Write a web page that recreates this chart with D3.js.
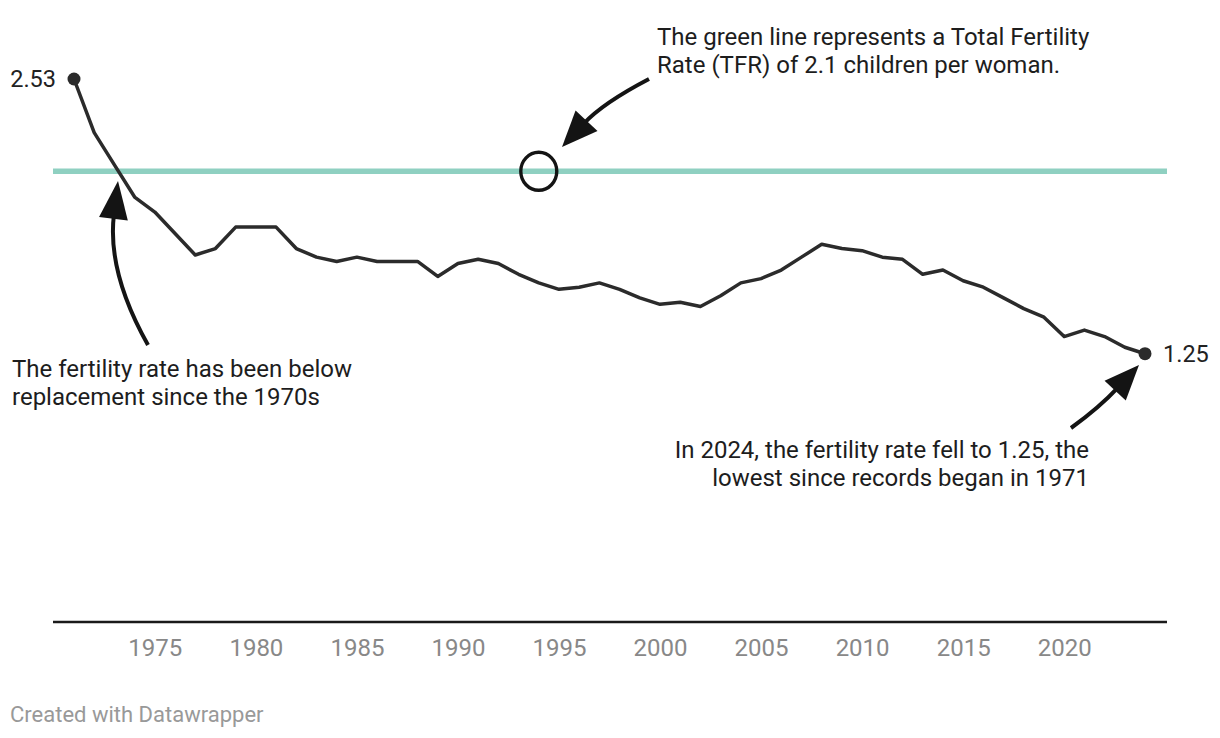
<!DOCTYPE html>
<html>
<head>
<meta charset="utf-8">
<script src="https://cdn.jsdelivr.net/npm/d3@7"></script>
<style>
  html, body { margin: 0; padding: 0; background: #fff; }
  svg { display: block; font-family: Roboto, "Noto Sans", sans-serif; }
</style>
</head>
<body>
<svg id="chart" width="1220" height="738"></svg>
<script>
// ---- data ----
const years = [1971,1972,1973,1974,1975,1976,1977,1978,1979,1980,
               1981,1982,1983,1984,1985,1986,1987,1988,1989,1990,
               1991,1992,1993,1994,1995,1996,1997,1998,1999,2000,
               2001,2002,2003,2004,2005,2006,2007,2008,2009,2010,
               2011,2012,2013,2014,2015,2016,2017,2018,2019,2020,
               2021,2022,2023,2024];
const tfr = [2.53,2.28,2.13,1.98,1.91,1.81,1.71,1.74,1.84,1.84,
             1.84,1.74,1.70,1.68,1.70,1.68,1.68,1.68,1.61,1.67,
             1.69,1.67,1.62,1.58,1.55,1.56,1.58,1.55,1.51,1.48,
             1.49,1.47,1.52,1.58,1.60,1.64,1.70,1.76,1.74,1.73,
             1.70,1.69,1.62,1.64,1.59,1.56,1.51,1.46,1.42,1.33,
             1.36,1.33,1.28,1.25];
const tickYears = [1975,1980,1985,1990,1995,2000,2005,2010,2015,2020];
const replacementRate = 2.1;

const svg = d3.select("#chart");
const x = d3.scaleLinear().domain([1971, 2024]).range([74, 1145]);
const y = d3.scaleLinear().domain([0, 2.53]).range([622, 79]);

const data = years.map((yr, i) => ({year: yr, value: tfr[i]}));

// baseline
svg.append("line")
  .attr("x1", 53).attr("x2", 1167)
  .attr("y1", y(0)).attr("y2", y(0))
  .attr("stroke", "#1a1a1a").attr("stroke-width", 2.5);

// x axis ticks
const axis = d3.axisBottom(x).tickValues(tickYears).tickSize(0).tickPadding(17).tickFormat(d3.format("d"));
const gAxis = svg.append("g").attr("transform", `translate(0,${y(0)})`).call(axis);
gAxis.select(".domain").remove();
gAxis.selectAll("text")
  .attr("fill", "#888").style("font-size", "24px").style("font-family", "Roboto, sans-serif");

// replacement line
svg.append("line")
  .attr("x1", 53).attr("x2", 1167)
  .attr("y1", y(replacementRate)).attr("y2", y(replacementRate))
  .attr("stroke", "#8fd0c1").attr("stroke-width", 5.5);

// data line
const line = d3.line().x(d => x(d.year)).y(d => y(d.value));
svg.append("path").datum(data)
  .attr("d", line)
  .attr("fill", "none").attr("stroke", "#2b2b2b").attr("stroke-width", 3.5)
  .attr("stroke-linejoin", "round");

// end dots
const ends = [data[0], data[data.length - 1]];
svg.selectAll("circle.end").data(ends).enter().append("circle")
  .attr("class", "end")
  .attr("cx", d => x(d.year)).attr("cy", d => y(d.value)).attr("r", 6.5)
  .attr("fill", "#2b2b2b");

// end labels
svg.append("text").attr("x", x(data[0].year) - 18).attr("y", y(data[0].value) + 8)
  .attr("text-anchor", "end").attr("fill", "#222").style("font-size", "23.5px")
  .text(data[0].value.toFixed(2));
const last = data[data.length - 1];
svg.append("text").attr("x", x(last.year) + 18).attr("y", y(last.value) + 8)
  .attr("text-anchor", "start").attr("fill", "#222").style("font-size", "23.5px")
  .text(last.value.toFixed(2));

// ---- annotations ----
function arrow(tail, ctrl, tip, L, W) {
  const dx = tip[0] - ctrl[0], dy = tip[1] - ctrl[1];
  const len = Math.hypot(dx, dy);
  const ux = dx / len, uy = dy / len;
  const base = [tip[0] - ux * L, tip[1] - uy * L];
  const px = -uy, py = ux;
  svg.append("path")
    .attr("d", `M${tail[0]},${tail[1]} Q${ctrl[0]},${ctrl[1]} ${base[0] + ux*4},${base[1] + uy*4}`)
    .attr("fill", "none").attr("stroke", "#141414").attr("stroke-width", 4)
    .attr("stroke-linecap", "butt");
  svg.append("path")
    .attr("d", `M${tip[0]},${tip[1]} L${base[0] + px*W/2},${base[1] + py*W/2} L${base[0] - px*W/2},${base[1] - py*W/2} Z`)
    .attr("fill", "#141414");
}

function textBlock(xp, yp, lines, anchor) {
  const t = svg.append("text").attr("x", xp).attr("y", yp)
    .attr("text-anchor", anchor).attr("fill", "#1d1d1d").style("font-size", "24px");
  lines.forEach((s, i) => {
    t.append("tspan").attr("x", xp).attr("dy", i === 0 ? 0 : 28).text(s);
  });
}

// circle on replacement line
svg.append("ellipse")
  .attr("cx", x(1994)).attr("cy", y(replacementRate))
  .attr("rx", 18).attr("ry", 19)
  .attr("fill", "none").attr("stroke", "#141414").attr("stroke-width", 3.4);

textBlock(657, 45, ["The green line represents a Total Fertility", "Rate (TFR) of 2.1 children per woman."], "start");
arrow([649, 79], [603, 103], [562, 147], 36, 30);

textBlock(12, 377, ["The fertility rate has been below", "replacement since the 1970s"], "start");
arrow([148, 345], [107, 272], [118, 181], 38, 29);

textBlock(1089, 458, ["In 2024, the fertility rate fell to 1.25, the", "lowest since records began in 1971"], "end");
arrow([1071, 428], [1099, 408], [1139, 365], 35, 29);

// footer
svg.append("text").attr("x", 10).attr("y", 722)
  .attr("fill", "#999").style("font-size", "22px")
  .text("Created with Datawrapper");
</script>
</body>
</html>
